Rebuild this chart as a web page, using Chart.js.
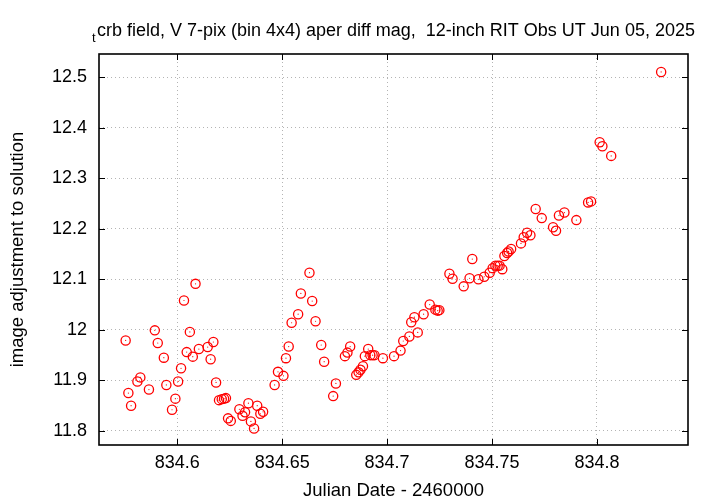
<!DOCTYPE html>
<html>
<head>
<meta charset="utf-8">
<script src="https://cdn.jsdelivr.net/npm/chart.js@4.4.1/dist/chart.umd.min.js"></script>
<style>
  html, body { margin: 0; padding: 0; background: #ffffff; }
</style>
</head>
<body>
<canvas id="magChart" width="720" height="504"></canvas>
<script>
// julian date - 2460000
const jd = [
  834.5754, 834.5767, 834.5780, 834.5810, 834.5824, 834.5865, 834.5893, 834.5907, 834.5936, 834.5948,
  834.5975, 834.5991, 834.6004, 834.6018, 834.6032, 834.6045, 834.6060, 834.6074, 834.6087, 834.6103,
  834.6145, 834.6159, 834.6172, 834.6185, 834.6199, 834.6212, 834.6223, 834.6232, 834.6242, 834.6255,
  834.6296, 834.6311, 834.6323, 834.6339, 834.6351, 834.6366, 834.6381, 834.6396, 834.6409, 834.6464,
  834.6480, 834.6506, 834.6518, 834.6531, 834.6545, 834.6576, 834.6589, 834.6630, 834.6643, 834.6659,
  834.6686, 834.6700, 834.6743, 834.6756, 834.6799, 834.6811, 834.6824, 834.6853, 834.6864, 834.6873,
  834.6885, 834.6894, 834.6910, 834.6920, 834.6931, 834.6940, 834.6980, 834.7033, 834.7064, 834.7077,
  834.7106, 834.7115, 834.7130, 834.7146, 834.7174, 834.7203, 834.7230, 834.7241, 834.7249, 834.7297,
  834.7312, 834.7365, 834.7393, 834.7406, 834.7435, 834.7463, 834.7489, 834.7503, 834.7516, 834.7527,
  834.7536, 834.7549, 834.7559, 834.7572, 834.7579, 834.7591, 834.7638, 834.7651, 834.7667, 834.7683,
  834.7708, 834.7737, 834.7791, 834.7805, 834.7819, 834.7845, 834.7902, 834.7958, 834.7972, 834.8013,
  834.8026, 834.8068, 834.8306
];
// image adjustment to solution (mag)
const mag = [
  11.979, 11.875, 11.850, 11.898, 11.906, 11.882, 11.999, 11.974, 11.945, 11.891,
  11.842, 11.864, 11.898, 11.924, 12.058, 11.956, 11.996, 11.947, 12.091, 11.962,
  11.966, 11.942, 11.976, 11.896, 11.861, 11.863, 11.864, 11.865, 11.825, 11.820,
  11.843, 11.830, 11.837, 11.855, 11.819, 11.805, 11.850, 11.834, 11.838, 11.891,
  11.917, 11.909, 11.944, 11.967, 12.014, 12.031, 12.072, 12.113, 12.057, 12.017,
  11.970, 11.937, 11.869, 11.894, 11.948, 11.955, 11.967, 11.911, 11.916, 11.921,
  11.928, 11.948, 11.962, 11.950, 11.950, 11.950, 11.944, 11.948, 11.959, 11.978,
  11.987, 12.015, 12.025, 11.995, 12.031, 12.050, 12.040, 12.038, 12.039, 12.111,
  12.101, 12.086, 12.102, 12.140, 12.100, 12.105, 12.113, 12.122, 12.127, 12.127,
  12.127, 12.120, 12.146, 12.152, 12.155, 12.160, 12.171, 12.183, 12.192, 12.187,
  12.239, 12.221, 12.203, 12.196, 12.226, 12.232, 12.217, 12.252, 12.254, 12.371,
  12.363, 12.344, 12.510
];
const xTicks = [834.6, 834.65, 834.7, 834.75, 834.8];
const yTicks = [11.8, 11.9, 12, 12.1, 12.2, 12.3, 12.4, 12.5];
const xRange = [834.5627, 834.8434];
const yRange = [11.7723, 12.5455];

const titleSub = "t";
const titleMain = "crb field, V 7-pix (bin 4x4) aper diff mag,  12-inch RIT Obs UT Jun 05, 2025";
const xLabel = "Julian Date - 2460000";
const yLabel = "image adjustment to solution";

const fontFamily = "'Liberation Sans', Arial, Helvetica, sans-serif";
const points = jd.map((x, i) => ({ x: x, y: mag[i] }));

// frame, inward ticks on all four sides, and the title with its subscript
const gnuplotLook = {
  id: "gnuplotLook",
  afterDraw(chart) {
    const ctx = chart.ctx;
    const area = chart.chartArea;
    const xs = chart.scales.x;
    const ys = chart.scales.y;
    const tick = 6;
    ctx.save();
    ctx.strokeStyle = "#000000";
    ctx.lineWidth = 1;
    ctx.beginPath();
    xTicks.forEach(function (v) {
      const px = Math.round(xs.getPixelForValue(v)) + 0.5;
      ctx.moveTo(px, area.bottom); ctx.lineTo(px, area.bottom - tick);
      ctx.moveTo(px, area.top); ctx.lineTo(px, area.top + tick);
    });
    yTicks.forEach(function (v) {
      const py = Math.round(ys.getPixelForValue(v)) + 0.5;
      ctx.moveTo(area.left, py); ctx.lineTo(area.left + tick, py);
      ctx.moveTo(area.right, py); ctx.lineTo(area.right - tick, py);
    });
    ctx.stroke();
    ctx.lineWidth = 1.6;
    ctx.strokeRect(area.left, area.top, area.right - area.left, area.bottom - area.top);

    ctx.fillStyle = "#000000";
    ctx.textBaseline = "alphabetic";
    ctx.textAlign = "left";
    ctx.font = "13px " + fontFamily;
    ctx.fillText(titleSub, 92, 42);
    ctx.font = "18px " + fontFamily;
    ctx.fillText(titleMain, 97, 36);
    ctx.restore();
  }
};

new Chart("magChart", {
  type: "scatter",
  data: {
    datasets: [
      {
        label: "circles",
        data: points,
        pointStyle: "circle",
        pointRadius: 4.6,
        pointBorderWidth: 1.3,
        pointBorderColor: "#ff0000",
        pointBackgroundColor: "rgba(0,0,0,0)",
      },
      {
        label: "centres",
        data: points,
        pointStyle: "circle",
        pointRadius: 0.6,
        pointBorderWidth: 0,
        pointBackgroundColor: "#ff0000",
      },
    ],
  },
  options: {
    responsive: false,
    animation: false,
    layout: { padding: { left: 0, top: 54, right: 32, bottom: 0 } },
    plugins: {
      legend: { display: false },
      tooltip: { enabled: false },
      title: { display: false },
    },
    scales: {
      x: {
        type: "linear",
        position: "bottom",
        min: xRange[0],
        max: xRange[1],
        afterBuildTicks: function (s) { s.ticks = xTicks.map(v => ({ value: v })); },
        afterFit: function (s) { s.height = 59; },
        ticks: {
          callback: v => String(v),
          color: "#000000",
          font: { family: fontFamily, size: 18 },
          padding: 7,
          maxRotation: 0,
          autoSkip: false,
        },
        grid: { color: "#b4b4b4", lineWidth: 1, drawTicks: false },
        border: { display: false, dash: [1, 3] },
        title: {
          display: true,
          text: xLabel,
          color: "#000000",
          font: { family: fontFamily, size: 18.5 },
          padding: { top: 0, bottom: 2 },
        },
      },
      y: {
        type: "linear",
        position: "left",
        min: yRange[0],
        max: yRange[1],
        afterBuildTicks: function (s) { s.ticks = yTicks.map(v => ({ value: v })); },
        afterFit: function (s) { s.width = 99; },
        ticks: {
          callback: v => String(v),
          color: "#000000",
          font: { family: fontFamily, size: 18 },
          padding: 12,
          autoSkip: false,
        },
        grid: { color: "#b4b4b4", lineWidth: 1, drawTicks: false },
        border: { display: false, dash: [1, 3] },
        title: {
          display: true,
          text: yLabel,
          color: "#000000",
          font: { family: fontFamily, size: 18.5 },
          padding: { top: 7, bottom: 0 },
        },
      },
    },
  },
  plugins: [gnuplotLook],
});
</script>
</body>
</html>
